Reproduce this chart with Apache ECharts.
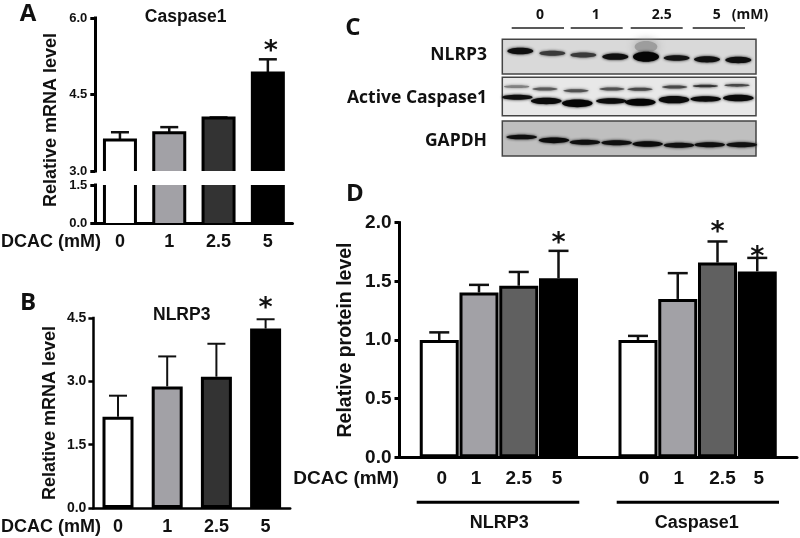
<!DOCTYPE html>
<html><head><meta charset="utf-8">
<style>html,body{margin:0;padding:0;background:#fff}#c{width:800px;height:538px}</style>
<script src="https://cdn.jsdelivr.net/npm/echarts@6/dist/echarts.min.js"></script>
</head><body><div id="c"></div>
<script>
// ---- data ----
const doseLabels = ['0','1','2.5','5'];
const caspaseMrna = [3.61,3.75,4.04,4.92];
const caspaseMrnaErr = [3.76,3.86,4.05,5.19];
const caspaseMrnaStar = [null,null,null,5.46];
const nlrpMrna = [2.16,2.88,3.11,4.25];
const nlrpMrnaErr = [2.66,3.59,3.89,4.47];
const nlrpMrnaStar = [null,null,null,4.85];
const proteinLabels = ['','0','1','2.5','5','','0','1','2.5','5',''];
const proteinLevel = [null,1.0,1.405,1.463,1.526,null,1.0,1.35,1.66,1.585,null];
const proteinErr = [null,1.065,1.47,1.58,1.76,null,1.035,1.57,1.84,1.70,null];
const proteinStar = [null,null,null,null,1.872,null,null,null,1.966,1.753,null];
const doseFills = ['#ffffff','#a2a1a6','#333333','#000000'];
const proteinFills = ['#fff','#ffffff','#a2a1a6','#606060','#000000','#fff','#ffffff','#a2a1a6','#606060','#000000','#fff'];
// western blot: band centre, row position, thickness, darkness
const laneSmear = [948];
const rowSmear = [140];
const thickSmear = [34];
const darkSmear = [.2];
const laneNLRP3 = [571,667,760,856,948,1040,1131,1225];
const rowNLRP3 = [153,160,165,170,170,174,178,180];
const thickNLRP3 = [20,15,15,19,30,17,19,19];
const darkNLRP3 = [.95,.72,.72,.95,1,.92,.95,.95];
const laneCasUp = [560,645,738,846,930,1034,1126,1221];
const rowCasUp = [260,267,272,267,268,261,258,256];
const thickCasUp = [8,9,9,9,9,9,8,8];
const darkCasUp = [.35,.55,.6,.6,.65,.65,.75,.65];
const laneCasLow = [562,649,742,844,931,1032,1127,1225];
const rowCasLow = [292,303,310,303,307,299,297,294];
const thickCasLow = [15,19,23,17,21,22,16,20];
const darkCasLow = [.95,.97,1,.97,1,.97,.97,.97];
const laneGapdh = [575,672,765,860,953,1047,1139,1235];
const rowGapdh = [411,421,427,428,432,436,434,434];
const thickGapdh = [14,17,15,15,17,15,15,15];
const darkGapdh = [.95,.97,.95,.95,.97,.95,.95,.95];

const F = '"Liberation Sans",Arial,sans-serif';
const L = '"Open Sans",sans-serif';
const ink = '#111';

function errSeries(xi, yi, errs, values, cap, lw){
  return {type:'custom', xAxisIndex:xi, yAxisIndex:yi, z:1, silent:true,
    data: values.map((v,i)=>[i,v,errs[i]]).filter(d=>d[1]!=null),
    encode:{x:0,y:[1,2]},
    renderItem(p,api){
      const a=api.coord([api.value(0),api.value(1)]), b=api.coord([api.value(0),api.value(2)]);
      return {type:'group',children:[
        {type:'line',shape:{x1:a[0],y1:a[1],x2:b[0],y2:b[1]},style:{stroke:ink,lineWidth:lw}},
        {type:'line',shape:{x1:b[0]-cap,y1:b[1],x2:b[0]+cap,y2:b[1]},style:{stroke:ink,lineWidth:lw}}
      ]};
    }};
}
function starSeries(xi, yi, stars, dx){
  return {type:'custom', xAxisIndex:xi, yAxisIndex:yi, z:5, silent:true,
    data: stars.map((v,i)=>[i,v]).filter(d=>d[1]!=null),
    encode:{x:0,y:1},
    renderItem(p,api){
      const a=api.coord([api.value(0),api.value(1)]);
      return {type:'text',style:{text:'*',x:a[0]+dx,y:a[1]+6,fill:'#111',
        font:'bold 27px "DejaVu Sans"',textAlign:'center',textVerticalAlign:'middle'}};
    }};
}
function barSeries(xi, yi, values, fills, w){
  return {type:'bar', xAxisIndex:xi, yAxisIndex:yi, z:2, silent:true, barWidth:w,
    data: values,
    itemStyle:{borderColor:'#000',borderWidth:3,color:(q)=>fills[q.dataIndex]}};
}
// panel A has a broken axis, so the bars are open at the break
function brokenBars(xi, yi, values, floor, ceil){
  return {type:'custom', xAxisIndex:xi, yAxisIndex:yi, z:2, silent:true,
    data: values.map((v,i)=>[i,v]), encode:{x:0,y:1},
    renderItem(p,api){
      const i=api.value(0), v=api.value(1), capped=v>ceil;
      const top=api.coord([i,Math.min(v,ceil)]), base=api.coord([i,floor]);
      const hw=15.5, x0=top[0]-hw, x1=top[0]+hw;
      const kids=[{type:'rect',shape:{x:x0,y:top[1],width:x1-x0,height:base[1]-top[1]},style:{fill:doseFills[i]}}];
      if(!capped) kids.push({type:'polyline',shape:{points:[[x0,base[1]],[x0,top[1]],[x1,top[1]],[x1,base[1]]]},style:{stroke:'#000',lineWidth:3,fill:'none'}});
      else {
        kids.push({type:'line',shape:{x1:x0,y1:top[1],x2:x0,y2:base[1]},style:{stroke:'#000',lineWidth:3}});
        kids.push({type:'line',shape:{x1:x1,y1:top[1],x2:x1,y2:base[1]},style:{stroke:'#000',lineWidth:3}});
      }
      return {type:'group',children:kids};
    }};
}
function band(lanes, rows, thick, dark, hw){
  return lanes.map((x,i)=>[x,rows[i],thick[i],dark[i],hw]);
}
const blotBands = [].concat(
  band(laneSmear,rowSmear,thickSmear,darkSmear,34),
  band(laneNLRP3,rowNLRP3,thickNLRP3,darkNLRP3,39),
  band(laneCasUp,rowCasUp,thickCasUp,darkCasUp,38),
  band(laneCasLow,rowCasLow,thickCasLow,darkCasLow,46),
  band(laneGapdh,rowGapdh,thickGapdh,darkGapdh,46)
);
const yAxisBase = (grid,min,max,interval,size,lw,margin)=>({
  type:'value',gridIndex:grid,min,max,interval,
  axisLine:{show:true,lineStyle:{color:'#000',width:lw,cap:'square'}},
  axisTick:{show:true,length:5,lineStyle:{color:'#000',width:lw}},
  splitLine:{show:false},
  axisLabel:{color:'#111',fontFamily:F,fontWeight:'bold',fontSize:size,margin,formatter:v=>v.toFixed(1)}
});
const xAxisBase = (grid,data,size,margin,lw)=>({
  type:'category',gridIndex:grid,data,
  axisLine:{show:true,onZero:false,lineStyle:{color:'#000',width:lw}},
  axisTick:{show:false},
  axisLabel:{color:'#111',fontFamily:F,fontWeight:'bold',fontSize:size,margin,interval:0}
});
// tick labels of panel D sit a little off their bars
const nudge = [0,5,-6,0,-3,0,12,2,10,3,0];
const richD = {};
nudge.forEach((n,i)=>{richD['n'+i]={fontFamily:F,fontWeight:'bold',fontSize:19,color:'#111',
  padding:n>=0?[0,0,0,n]:[0,-n,0,0]};});
const txt=(text,x,y,font,extra)=>Object.assign({type:'text',silent:true,x,y,
  style:{text,font,fill:'#111',textAlign:'center',textVerticalAlign:'middle'}},extra||{});
const rtxt=(text,x,y,font)=>({type:'text',silent:true,x,y,
  style:{text,font,fill:'#111',textAlign:'right',textVerticalAlign:'middle'}});
const bold=(s)=>'bold '+s+'px '+F;
const lbold=(s)=>'bold '+s+'px '+L;
const rule=(x1,y,x2,c,w)=>({type:'line',silent:true,shape:{x1,y1:y,x2,y2:y},style:{stroke:c,lineWidth:w}});

const xD = xAxisBase(3,proteinLabels,19,12,3);
xD.boundaryGap=false;
xD.axisLabel.formatter=(v,i)=>v===''?'':'{n'+i+'|'+v+'}';
xD.axisLabel.rich=richD;

const option={
  animation:false, backgroundColor:'#fff',
  grid:[
    {left:95.3,width:197.2,top:18,height:153},
    {left:95.3,width:197.2,top:185,height:38},
    {left:93.4,width:196.8,top:318,height:190},
    {left:399.5,width:397.5,top:222.7,height:234.6},
    {left:502.3,width:253.7,top:39.3,height:116.7}
  ],
  xAxis:[
    Object.assign(xAxisBase(0,doseLabels,18,0,3),{show:false}),
    xAxisBase(1,doseLabels,18,10,3),
    xAxisBase(2,doseLabels,18,10,2.5),
    xD,
    {type:'value',gridIndex:4,min:517,max:1278,show:false}
  ],
  yAxis:[
    yAxisBase(0,3,6,1.5,13,3,8),
    yAxisBase(1,0,1.5,1.5,13,3,8),
    Object.assign(yAxisBase(2,0,4.5,1.5,14,2.5,7),{name:'Relative mRNA level',nameLocation:'middle',nameGap:34,
      nameTextStyle:{color:'#111',fontFamily:F,fontWeight:'bold',fontSize:18}}),
    Object.assign(yAxisBase(3,0,2,0.5,19,3,8),{name:'Relative protein level',nameLocation:'middle',nameGap:44,
      nameTextStyle:{color:'#111',fontFamily:F,fontWeight:'bold',fontSize:19.5}}),
    {type:'value',gridIndex:4,min:118,max:468,inverse:true,show:false}
  ],
  series:[
    errSeries(0,0,caspaseMrnaErr,caspaseMrna,9,2.5),
    brokenBars(0,0,caspaseMrna,3,99),
    brokenBars(1,1,caspaseMrna,0,1.5),
    starSeries(0,0,caspaseMrnaStar,3),
    errSeries(2,2,nlrpMrnaErr,nlrpMrna,9,2),
    barSeries(2,2,nlrpMrna,doseFills,31),
    starSeries(2,2,nlrpMrnaStar,0),
    errSeries(3,3,proteinErr,proteinLevel,10,2.5),
    barSeries(3,3,proteinLevel,proteinFills,39),
    starSeries(3,3,proteinStar,0),
    {type:'custom',xAxisIndex:4,yAxisIndex:4,z:1,silent:true,
      data:[[517,118,1278,222,0],[517,232,1278,347,1],[517,363,1278,468,2]],
      encode:{x:[0,2],y:[1,3]},
      renderItem(p,api){
        const a=api.coord([api.value(0),api.value(1)]),b=api.coord([api.value(2),api.value(3)]);
        return {type:'rect',shape:{x:a[0],y:a[1],width:b[0]-a[0],height:b[1]-a[1]},
          style:{fill:['#d9d9d9','#e8e8e8','#bfbfbf'][api.value(4)],stroke:'#444',lineWidth:1.5}};
      }},
    {type:'custom',xAxisIndex:4,yAxisIndex:4,z:2,silent:true,
      data:blotBands,encode:{x:0,y:1},
      renderItem(p,api){
        const c=api.coord([api.value(0),api.value(1)]);
        const s=api.size([api.value(4),api.value(2)]);
        const d=api.value(3);
        const g=Math.round(190*(1-d)+5);
        const col='rgb('+g+','+g+','+g+')';
        return {type:'ellipse',shape:{cx:c[0],cy:c[1],rx:s[0],ry:s[1]/2},
          style:{fill:col,shadowBlur:d<.3?10:3,shadowColor:col}};
      }}
  ],
  graphic:{elements:[
    txt('A',28,14,lbold(24)),
    txt('B',28,303,lbold(24)),
    txt('C',353,28,lbold(24)),
    txt('D',355,194,lbold(24)),
    txt('Caspase1',185.7,17,bold(17.5)),
    txt('NLRP3',181.7,315,bold(17.5)),
    txt('Relative mRNA level',51,120,bold(18),{rotation:Math.PI/2}),
    txt('DCAC (mM)',51,241.7,bold(18)),
    txt('DCAC (mM)',51,526.7,bold(18)),
    txt('DCAC (mM)',346,478.3,bold(19)),
    rule(416.7,502.3,579.3,'#000',3),
    rule(616.7,502.3,779,'#000',3),
    txt('NLRP3',499.3,523,bold(18)),
    txt('Caspase1',696.7,523,bold(18)),
    rtxt('NLRP3',487,55,lbold(17.5)),
    rtxt('Active Caspase1',487,98,lbold(17.5)),
    rtxt('GAPDH',487,141,lbold(17.5)),
    txt('0',540,15,lbold(14)),
    txt('1',595.7,15,lbold(14)),
    txt('2.5',661.7,15,lbold(14)),
    txt('5',716.7,15,lbold(14)),
    txt('(mM)',750,15,lbold(14)),
    rule(511.7,28,564,'#222',1.5),
    rule(570.7,28,622.7,'#222',1.5),
    rule(630.7,28,682.7,'#222',1.5),
    rule(692.7,28,745,'#222',1.5)
  ]}
};
echarts.init(document.getElementById('c'),null,{renderer:'canvas'}).setOption(option);
</script></body></html>
